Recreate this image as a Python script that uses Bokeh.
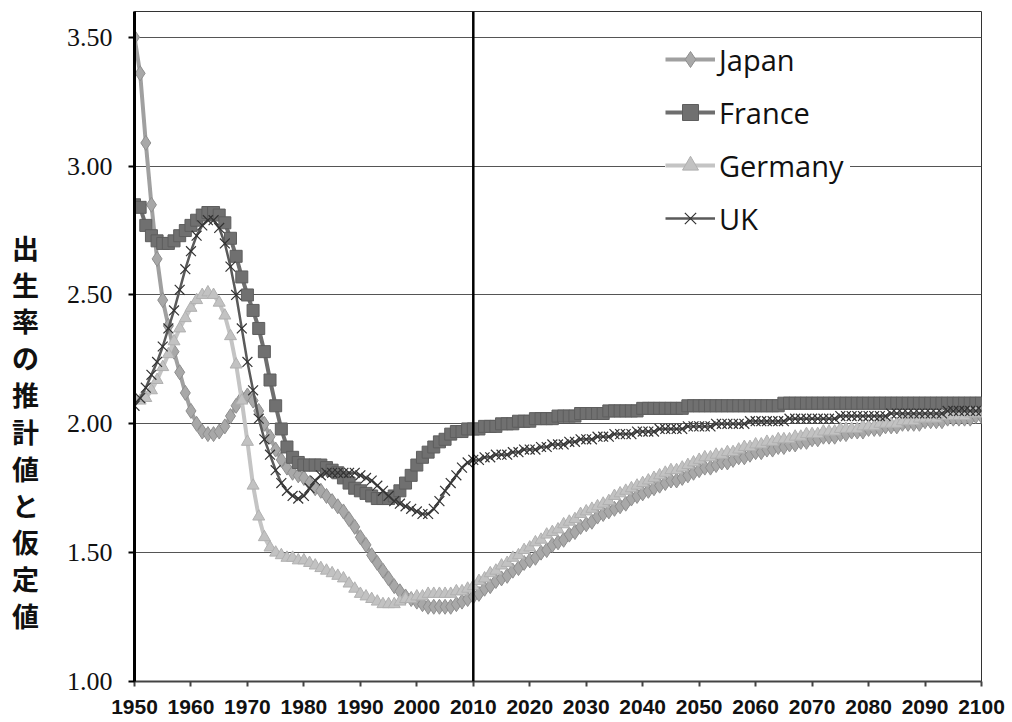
from bokeh.plotting import figure
from bokeh.layouts import row
from bokeh.models import (Span, Legend, LegendItem, FixedTicker,
                          PrintfTickFormatter, Range1d)
from bokeh.core.properties import value
from bokeh.embed import file_html
from bokeh.resources import INLINE

years = list(range(1950, 2101))

japan = [
    3.50, 3.36, 3.09, 2.85, 2.64, 2.48, 2.38, 2.28, 2.20, 2.12,
    2.05, 2.00, 1.97, 1.96, 1.96, 1.97, 1.99, 2.03, 2.07, 2.10,
    2.11, 2.09, 2.05, 2.00, 1.95, 1.90, 1.86, 1.83, 1.81, 1.80,
    1.79, 1.77, 1.75, 1.74, 1.72, 1.70, 1.68, 1.66, 1.63, 1.60,
    1.56, 1.53, 1.49, 1.46, 1.43, 1.40, 1.37, 1.35, 1.33, 1.32,
    1.31, 1.30, 1.29, 1.29, 1.29, 1.29, 1.29, 1.30, 1.31, 1.32,
    1.33,
    1.34, 1.36, 1.37, 1.39, 1.40, 1.41, 1.43, 1.44, 1.46, 1.47,
    1.48, 1.50, 1.51, 1.53, 1.54, 1.55, 1.57, 1.58, 1.60, 1.61,
    1.62, 1.64, 1.65, 1.66, 1.67, 1.68, 1.69, 1.71, 1.72, 1.73,
    1.74, 1.75, 1.76, 1.77, 1.78, 1.78, 1.79, 1.80, 1.81, 1.82,
    1.83, 1.83, 1.84, 1.85, 1.85, 1.86, 1.87, 1.87, 1.88, 1.89,
    1.89, 1.90, 1.90, 1.91, 1.91, 1.92, 1.92, 1.93, 1.93, 1.94,
    1.94, 1.95, 1.95, 1.95, 1.96, 1.96, 1.97, 1.97, 1.97, 1.98,
    1.98, 1.98, 1.99, 1.99, 1.99, 2.00, 2.00, 2.00, 2.00, 2.01,
    2.01, 2.01, 2.01, 2.02, 2.02, 2.02, 2.02, 2.02, 2.03, 2.03,
]

france = [
    2.85, 2.84, 2.77, 2.73, 2.71, 2.70, 2.70, 2.71, 2.73, 2.75,
    2.77, 2.79, 2.81, 2.82, 2.82, 2.81, 2.78, 2.72, 2.65, 2.57,
    2.50, 2.44, 2.37, 2.28, 2.17, 2.07, 1.98, 1.91, 1.87, 1.85,
    1.84, 1.84, 1.84, 1.84, 1.83, 1.82, 1.81, 1.79, 1.77, 1.75,
    1.74, 1.73, 1.72, 1.71, 1.71, 1.71, 1.72, 1.74, 1.77, 1.80,
    1.84, 1.87, 1.89, 1.91, 1.93, 1.94, 1.96, 1.97, 1.97, 1.98,
    1.98,
    1.98, 1.99, 1.99, 1.99, 2.00, 2.00, 2.00, 2.01, 2.01, 2.01,
    2.02, 2.02, 2.02, 2.02, 2.03, 2.03, 2.03, 2.03, 2.04, 2.04,
    2.04, 2.04, 2.04, 2.05, 2.05, 2.05, 2.05, 2.05, 2.05, 2.06,
    2.06, 2.06, 2.06, 2.06, 2.06, 2.06, 2.06, 2.07, 2.07, 2.07,
    2.07, 2.07, 2.07, 2.07, 2.07, 2.07, 2.07, 2.07, 2.07, 2.07,
    2.07, 2.07, 2.07, 2.07, 2.08, 2.08, 2.08, 2.08, 2.08, 2.08,
    2.08, 2.08, 2.08, 2.08, 2.08, 2.08, 2.08, 2.08, 2.08, 2.08,
    2.08, 2.08, 2.08, 2.08, 2.08, 2.08, 2.08, 2.08, 2.08, 2.08,
    2.08, 2.08, 2.08, 2.08, 2.08, 2.08, 2.08, 2.08, 2.08, 2.08,
]

germany = [
    2.10, 2.09, 2.10, 2.13, 2.17, 2.22, 2.27, 2.32, 2.37, 2.41,
    2.45, 2.48, 2.50, 2.51, 2.50, 2.47, 2.42, 2.34, 2.23, 2.09,
    1.93, 1.76, 1.64, 1.56, 1.52, 1.50, 1.49, 1.48, 1.48, 1.47,
    1.47, 1.46, 1.45, 1.44, 1.43, 1.42, 1.41, 1.40, 1.38, 1.36,
    1.34, 1.33, 1.32, 1.31, 1.30, 1.30, 1.30, 1.31, 1.32, 1.32,
    1.33, 1.33, 1.34, 1.34, 1.34, 1.34, 1.34, 1.35, 1.35, 1.36,
    1.37,
    1.39, 1.40, 1.42, 1.43, 1.45, 1.46, 1.48, 1.49, 1.51, 1.52,
    1.54, 1.55, 1.57, 1.58, 1.59, 1.61, 1.62, 1.63, 1.65, 1.66,
    1.67, 1.68, 1.69, 1.70, 1.72, 1.73, 1.74, 1.75, 1.76, 1.77,
    1.78, 1.79, 1.80, 1.81, 1.82, 1.82, 1.83, 1.84, 1.85, 1.86,
    1.87, 1.87, 1.88, 1.88, 1.89, 1.89, 1.90, 1.91, 1.91, 1.92,
    1.92, 1.93, 1.93, 1.94, 1.94, 1.94, 1.95, 1.95, 1.96, 1.96,
    1.96, 1.97, 1.97, 1.97, 1.98, 1.98, 1.98, 1.98, 1.99, 1.99,
    1.99, 2.00, 2.00, 2.00, 2.00, 2.01, 2.01, 2.01, 2.02, 2.02,
    2.02, 2.02, 2.03, 2.03, 2.03, 2.03, 2.03, 2.04, 2.04, 2.04,
]

uk = [
    2.07, 2.10, 2.14, 2.19, 2.24, 2.30, 2.37, 2.44, 2.52, 2.60,
    2.67, 2.73, 2.77, 2.79, 2.79, 2.76, 2.70, 2.61, 2.50, 2.37,
    2.24, 2.13, 2.02, 1.94, 1.88, 1.82, 1.77, 1.74, 1.72, 1.71,
    1.72, 1.75, 1.78, 1.80, 1.81, 1.81, 1.81, 1.81, 1.81, 1.81,
    1.80, 1.79, 1.78, 1.76, 1.74, 1.72, 1.70, 1.69, 1.68, 1.67,
    1.66, 1.65, 1.65, 1.67, 1.70, 1.74, 1.77, 1.80, 1.83, 1.85,
    1.86,
    1.86, 1.87, 1.87, 1.88, 1.88, 1.88, 1.89, 1.89, 1.90, 1.90,
    1.90, 1.91, 1.91, 1.92, 1.92, 1.92, 1.93, 1.93, 1.94, 1.94,
    1.94, 1.95, 1.95, 1.95, 1.96, 1.96, 1.96, 1.96, 1.97, 1.97,
    1.97, 1.97, 1.98, 1.98, 1.98, 1.98, 1.98, 1.99, 1.99, 1.99,
    1.99, 1.99, 2.00, 2.00, 2.00, 2.00, 2.00, 2.00, 2.01, 2.01,
    2.01, 2.01, 2.01, 2.01, 2.01, 2.02, 2.02, 2.02, 2.02, 2.02,
    2.02, 2.02, 2.02, 2.02, 2.03, 2.03, 2.03, 2.03, 2.03, 2.03,
    2.03, 2.03, 2.03, 2.04, 2.04, 2.04, 2.04, 2.04, 2.04, 2.04,
    2.04, 2.04, 2.04, 2.05, 2.05, 2.05, 2.05, 2.05, 2.05, 2.05,
]

x_ticks = list(range(1950, 2101, 10))
y_ticks = [1.0, 1.5, 2.0, 2.5, 3.0, 3.5]
y_title = "出生率の推計値と仮定値"
divider_year = 2010

y_range = Range1d(1.0, 3.60)

# ---- main chart ----
p = figure(width=958, height=720,
           x_range=Range1d(1950, 2100), y_range=y_range,
           output_backend="svg", toolbar_location=None,
           min_border_left=84, min_border_right=27,
           min_border_top=11, min_border_bottom=0)

p.outline_line_color = "#333333"
p.outline_line_width = 1
p.xgrid.grid_line_color = None
p.ygrid.grid_line_color = "#555555"
p.ygrid.grid_line_width = 1

p.yaxis.ticker = FixedTicker(ticks=y_ticks)
p.yaxis.formatter = PrintfTickFormatter(format="%.2f")
p.yaxis.axis_line_color = "black"
p.yaxis.axis_line_width = 3
p.yaxis.major_tick_line_color = "black"
p.yaxis.major_tick_line_width = 2
p.yaxis.major_tick_out = 6
p.yaxis.major_tick_in = 0
p.yaxis.minor_tick_line_color = None
p.yaxis.major_label_text_font = "Liberation Serif"
p.yaxis.major_label_text_font_size = "26px"
p.yaxis.major_label_text_color = "#111111"
p.yaxis.major_label_standoff = 16

p.xaxis.ticker = FixedTicker(ticks=x_ticks)
p.xaxis.axis_line_color = "#444444"
p.xaxis.axis_line_width = 2
p.xaxis.major_tick_line_color = "#444444"
p.xaxis.major_tick_line_width = 2
p.xaxis.major_tick_out = 5
p.xaxis.major_tick_in = 0
p.xaxis.minor_tick_line_color = None
p.xaxis.major_label_text_font = "Liberation Sans"
p.xaxis.major_label_text_font_style = "bold"
p.xaxis.major_label_text_font_size = "21px"
p.xaxis.major_label_text_color = "#111111"
p.xaxis.major_label_standoff = 13

p.add_layout(Span(location=divider_year, dimension="height",
                  line_color="black", line_width=2.5))

lj = p.line(years, japan, line_color="#a0a0a0", line_width=4)
sj = p.scatter(years, japan, marker="diamond", size=15,
               fill_color="#a8a8a8", line_color="#8e8e8e", line_width=1)
lf = p.line(years, france, line_color="#6e6e6e", line_width=4)
sf = p.scatter(years, france, marker="square", size=12,
               fill_color="#707070", line_color="#5e5e5e", line_width=1)
lg = p.line(years, germany, line_color="#c4c4c4", line_width=4)
sg = p.scatter(years, germany, marker="triangle", size=12,
               fill_color="#c2c2c2", line_color="#b0b0b0", line_width=1)
lu = p.line(years, uk, line_color="#5a5a5a", line_width=2.5)
su = p.scatter(years, uk, marker="x", size=14,
               line_color="#333333", line_width=1.2)

legend = Legend(items=[
    LegendItem(label="Japan", renderers=[lj, sj]),
    LegendItem(label="France", renderers=[lf, sf]),
    LegendItem(label="Germany", renderers=[lg, sg]),
    LegendItem(label="UK", renderers=[lu, su]),
], location=(531, 443))
legend.border_line_color = None
legend.background_fill_color = "white"
legend.background_fill_alpha = 1.0
legend.label_text_font = "Open Sans"
legend.label_text_font_size = "29px"
legend.label_text_color = "#111111"
legend.glyph_width = 50
legend.glyph_height = 40
legend.label_height = 40
legend.label_width = 131
legend.spacing = 13
legend.padding = 20
legend.label_standoff = 4
p.add_layout(legend)

# ---- left strip with the stacked vertical y-axis title ----
t = figure(width=50, height=720, x_range=Range1d(0, 1), y_range=y_range,
           output_backend="svg", toolbar_location=None,
           min_border_left=0, min_border_right=0,
           min_border_top=11, min_border_bottom=39)
t.axis.visible = False
t.grid.visible = False
t.outline_line_color = None
n = len(y_title)
title_y = [2.685 - i * (2.685 - 1.256) / (n - 1) for i in range(n)]
t.text(x=[0.5] * n, y=title_y, text=list(y_title),
       text_align="center", text_baseline="middle",
       text_font=value("Noto Sans CJK JP"), text_font_style="bold",
       text_font_size="27px", text_color="#111111")

layout = row(t, p, spacing=0)
open("out.html", "w").write(file_html(layout, INLINE))
